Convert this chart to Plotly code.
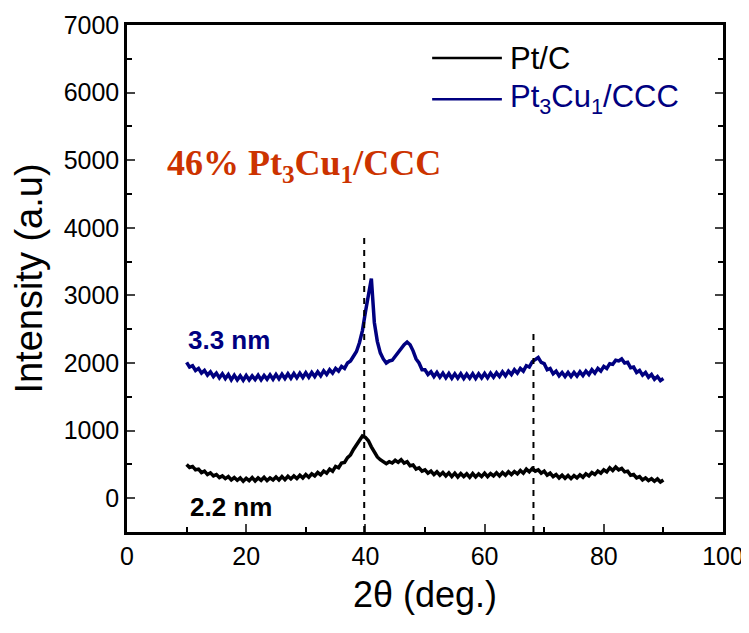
import plotly.graph_objects as go

# Scan grid (2θ, degrees) shared by both patterns: 10 .. 90 in 0.5° steps
two_theta = [10 + 0.5 * i for i in range(161)]

pt_c = [
    500, 455, 470, 420, 430, 380, 400, 350, 375, 330,
    350, 305, 330, 290, 320, 270, 305, 265, 300, 250,
    295, 260, 305, 255, 300, 265, 310, 260, 300, 270,
    315, 270, 320, 275, 325, 285, 330, 290, 340, 300,
    350, 310, 360, 330, 380, 345, 400, 370, 430, 400,
    470, 450, 520, 530, 600, 640, 720, 780, 860, 920,
    900, 850, 760, 680, 610, 570, 540, 510, 540, 520,
    560, 530, 570, 520, 540, 480, 490, 430, 450, 400,
    420, 370, 400, 350, 390, 340, 380, 330, 375, 320,
    370, 315, 365, 320, 360, 310, 365, 315, 360, 320,
    370, 320, 365, 330, 375, 330, 380, 340, 390, 350,
    395, 360, 410, 370, 430, 390, 440, 400, 420, 370,
    400, 340, 370, 320, 350, 300, 340, 295, 335, 290,
    335, 300, 345, 310, 360, 330, 380, 350, 400, 370,
    420, 390, 450, 410, 460, 420, 440, 390, 400, 340,
    350, 300, 320, 270, 300, 260, 290, 250, 285, 240,
    270,
]

pt3cu1_ccc = [
    2010, 1940, 1960, 1890, 1920, 1850, 1890, 1820, 1870, 1800,
    1850, 1780, 1840, 1770, 1830, 1750, 1820, 1750, 1810, 1745,
    1815, 1750, 1810, 1755, 1820, 1750, 1815, 1760, 1825, 1760,
    1830, 1765, 1835, 1770, 1840, 1775, 1845, 1780, 1850, 1785,
    1855, 1790, 1860, 1800, 1870, 1810, 1885, 1830, 1900, 1850,
    1920, 1880, 1950, 1920, 2000, 2030, 2100, 2170, 2300, 2480,
    2750, 3000, 3250, 2600, 2320, 2150, 2060, 2000, 2030, 2040,
    2100, 2140, 2220, 2270, 2310, 2270, 2180, 2060, 2000, 1900,
    1900, 1830, 1870, 1800, 1860, 1790, 1850, 1780, 1845, 1775,
    1840, 1775, 1840, 1770, 1835, 1775, 1840, 1770, 1840, 1780,
    1845, 1780, 1850, 1790, 1855, 1800, 1870, 1810, 1880, 1830,
    1900, 1850, 1920, 1880, 1960, 1940, 2020, 2050, 2080, 2010,
    1990, 1900, 1920, 1840, 1880, 1810, 1860, 1800, 1860, 1800,
    1860, 1805, 1870, 1815, 1880, 1830, 1900, 1850, 1920, 1880,
    1950, 1920, 1990, 1980, 2040, 2030, 2060, 2000, 2010, 1930,
    1940, 1860, 1890, 1820, 1860, 1790, 1830, 1760, 1800, 1740,
    1770,
]

series_names = ["Pt/C", "Pt<sub>3</sub>Cu<sub>1</sub>/CCC"]
series_colors = ["#000000", "#000080"]

ref_peaks_x = [39.8, 68.2]
ref_peaks_top = [3900, 2460]

x_ticks = [0, 20, 40, 60, 80, 100]
y_ticks = [0, 1000, 2000, 3000, 4000, 5000, 6000, 7000]

fig = go.Figure()
for yv, name, col in zip([pt_c, pt3cu1_ccc], series_names, series_colors):
    fig.add_trace(go.Scatter(x=two_theta, y=yv, mode="lines", name=name,
                             line=dict(color=col, width=3.5), showlegend=False))

# dashed reference lines
for px, pt in zip(ref_peaks_x, ref_peaks_top):
    fig.add_shape(type="line", xref="x", yref="y", x0=px, x1=px, y0=-500, y1=pt,
                  line=dict(color="black", width=2, dash="6px,6px"))

# manual legend
legend_y = [6510, 5900]
for ly, name, col in zip(legend_y, series_names, series_colors):
    fig.add_shape(type="line", xref="x", yref="y", x0=51.2, x1=62.9, y0=ly, y1=ly,
                  line=dict(color=col, width=2.5))
    fig.add_annotation(x=64.0, y=ly, xref="x", yref="y", text=name, showarrow=False,
                       xanchor="left", yanchor="middle",
                       font=dict(family="Liberation Sans", size=31, color=col))

fig.add_annotation(x=6.4, y=4926, xref="x", yref="y",
                   text="<b>46% Pt<sub>3</sub>Cu<sub>1</sub>/CCC</b>", showarrow=False,
                   xanchor="left", yanchor="middle",
                   font=dict(family="Liberation Serif", size=36, color="#cc3300"))
fig.add_annotation(x=9.9, y=2337, xref="x", yref="y", text="<b>3.3 nm</b>", showarrow=False,
                   xanchor="left", yanchor="middle",
                   font=dict(family="Liberation Sans", size=26, color="#000080"))
fig.add_annotation(x=10.2, y=-133, xref="x", yref="y", text="<b>2.2 nm</b>", showarrow=False,
                   xanchor="left", yanchor="middle",
                   font=dict(family="Liberation Sans", size=26, color="#000000"))

axis_font = dict(family="Liberation Sans", size=25, color="black")
fig.update_xaxes(range=[0, 100], tickvals=x_ticks, ticks="inside", ticklen=8, tickwidth=2,
                 showline=True, linewidth=2.5, linecolor="black", mirror=True,
                 showgrid=False, zeroline=False, tickfont=axis_font, automargin=False,
                 minor=dict(dtick=10, ticks="inside", ticklen=5, tickwidth=2, tickcolor="black"),
                 title=dict(text="2θ (deg.)", font=dict(family="Liberation Sans", size=36, color="black"),
                            standoff=14))
fig.update_yaxes(range=[-500, 7000], tickvals=y_ticks, ticks="inside", ticklen=8, tickwidth=2,
                 showline=True, linewidth=2.5, linecolor="black", mirror="ticks",
                 showgrid=False, zeroline=False, tickfont=axis_font, automargin=False,
                 minor=dict(dtick=500, ticks="inside", ticklen=5, tickwidth=2, tickcolor="black"),
                 title=dict(text="Intensity (a.u)", font=dict(family="Liberation Sans", size=38, color="black"),
                            standoff=10))

fig.update_layout(width=749, height=633, margin=dict(l=119, r=34, t=17, b=109),
                  paper_bgcolor="white", plot_bgcolor="white")

fig.write_html("out.html")
